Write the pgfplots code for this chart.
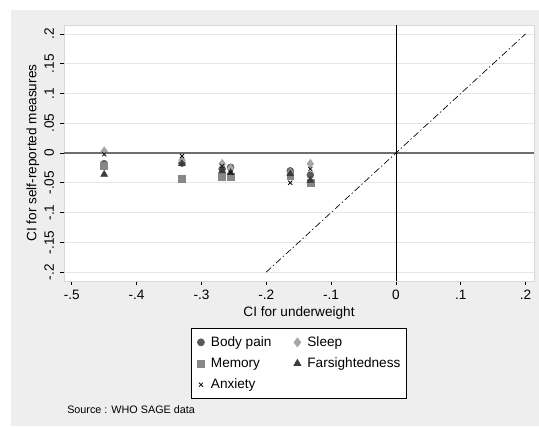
\documentclass[border=0pt]{standalone}
\usepackage{pgfplots}
\pgfplotsset{compat=1.18}
\usepackage{fontspec}
\setmainfont{Liberation Sans}

\definecolor{panelgray}{HTML}{EEEEEE}
\definecolor{gridgray}{HTML}{E6E6E6}
\definecolor{framegray}{HTML}{D8D8D8}
\definecolor{zerogray}{HTML}{6E6E6E}
\definecolor{cPain}{HTML}{5A5A5A}
\definecolor{cSleep}{HTML}{A6A6A6}
\definecolor{cMemory}{HTML}{878787}
\definecolor{cFar}{HTML}{3C3C3C}
\definecolor{cAnx}{HTML}{101010}

\begin{document}
\begin{tikzpicture}
% page and graph region
\path[use as bounding box, fill=white] (0pt,0pt) rectangle (404.25pt,-319.5pt);
\fill[panelgray] (8.25pt,-7.5pt) rectangle (404.25pt,-319.5pt);

\begin{axis}[
  at={(48pt,-210.75pt)}, anchor=south west,
  scale only axis, width=352.5pt, height=192pt,
  xmin=-0.512, xmax=0.213, ymin=-0.215, ymax=0.215,
  axis background/.style={fill=white},
  axis x line*=bottom, axis y line*=left,
  axis line style={black, line width=0.6pt, -},
  tick align=outside, major tick length=3pt,
  tick style={black, line width=0.6pt},
  xtick={-0.5,-0.4,-0.3,-0.2,-0.1,0,0.1,0.2},
  xticklabels={-.5,-.4,-.3,-.2,-.1,0,.1,.2},
  ytick={-0.2,-0.15,-0.1,-0.05,0,0.05,0.1,0.15,0.2},
  yticklabels={-.2,-.15,-.1,-.05,0,.05,.1,.15,.2},
  ymajorgrids, major grid style={gridgray, line width=0.6pt},
  /pgf/number format/assume math mode=true,
  ticklabel style={font=\fontsize{10.2}{12}\selectfont},
  yticklabel style={rotate=90, anchor=south, yshift=1pt},
  label style={font=\fontsize{10.2}{12}\selectfont},
  xlabel={CI for underweight},
  ylabel={CI for self-reported measures},
  xlabel style={at={(axis description cs:0.5,-0.125)}, anchor=center},
  ylabel style={at={(axis description cs:-0.066,0.5)}, anchor=center},
  clip=false,
  legend columns=2,
  legend cell align=left,
  legend image code/.code={%
    \path[draw=none, fill=none] (0pt,0pt) -- (10pt,0pt);
    \draw[mark repeat=2,mark phase=2,#1] plot coordinates {(0pt,0pt)(4.5pt,0pt)(9pt,0pt)};},
  legend style={at={(axis description cs:0.5,0)}, anchor=north, yshift=-35.25pt,
    draw=black, line width=0.6pt, fill=white, inner xsep=2.5pt, inner ysep=4pt,
    font=\fontsize{10.2}{12}\selectfont, row sep=3pt,
    /tikz/every even column/.append style={column sep=13pt}},
]
% light outline of the plot region
\draw[framegray, line width=0.6pt] (rel axis cs:0,0) rectangle (rel axis cs:1,1);
% reference lines
\draw[zerogray, line width=1.1pt] (axis cs:-0.512,0) -- (axis cs:0.213,0);
\draw[black, line width=0.6pt] (axis cs:0,-0.215) -- (axis cs:0,0.215);
\addplot[black, line width=0.5pt, dash pattern=on 5pt off 2pt on 1pt off 2pt, forget plot]
  coordinates {(-0.2,-0.2) (0.2,0.2)};

\addplot[only marks, mark=*, mark size=2.6pt, color=cPain, mark options={fill=cPain, draw=cPain}]
  coordinates {(-0.45,-0.018) (-0.33,-0.017) (-0.268,-0.027) (-0.255,-0.024) (-0.163,-0.030) (-0.132,-0.037)};
\addlegendentry{Body pain}
\addplot[only marks, mark=diamond*, mark size=3.3pt, color=cSleep, mark options={fill=cSleep, draw=cSleep}]
  coordinates {(-0.45,0.003) (-0.33,-0.012) (-0.268,-0.018) (-0.255,-0.026) (-0.163,-0.033) (-0.132,-0.018)};
\addlegendentry{Sleep}
\addplot[only marks, mark=square*, mark size=2.6pt, color=cMemory, mark options={fill=cMemory, draw=cMemory}]
  coordinates {(-0.45,-0.022) (-0.33,-0.044) (-0.268,-0.040) (-0.255,-0.040) (-0.163,-0.038) (-0.132,-0.050)};
\addlegendentry{Memory}
\addplot[only marks, mark=triangle*, mark size=3pt, color=cFar, mark options={fill=cFar, draw=cFar}]
  coordinates {(-0.45,-0.036) (-0.33,-0.018) (-0.268,-0.030) (-0.255,-0.033) (-0.163,-0.035) (-0.132,-0.046)};
\addlegendentry{Farsightedness}
\addplot[only marks, mark=x, mark size=2.2pt, color=cAnx, mark options={line width=0.6pt}]
  coordinates {(-0.45,-0.002) (-0.33,-0.005) (-0.268,-0.022) (-0.255,-0.033) (-0.163,-0.050) (-0.132,-0.027)};
\addlegendentry{Anxiety}
\end{axis}

\node[anchor=west, inner sep=0pt, font=\fontsize{8.1}{10}\selectfont] at (50.25pt,-307.5pt) {Source : WHO SAGE data};
\end{tikzpicture}
\end{document}
